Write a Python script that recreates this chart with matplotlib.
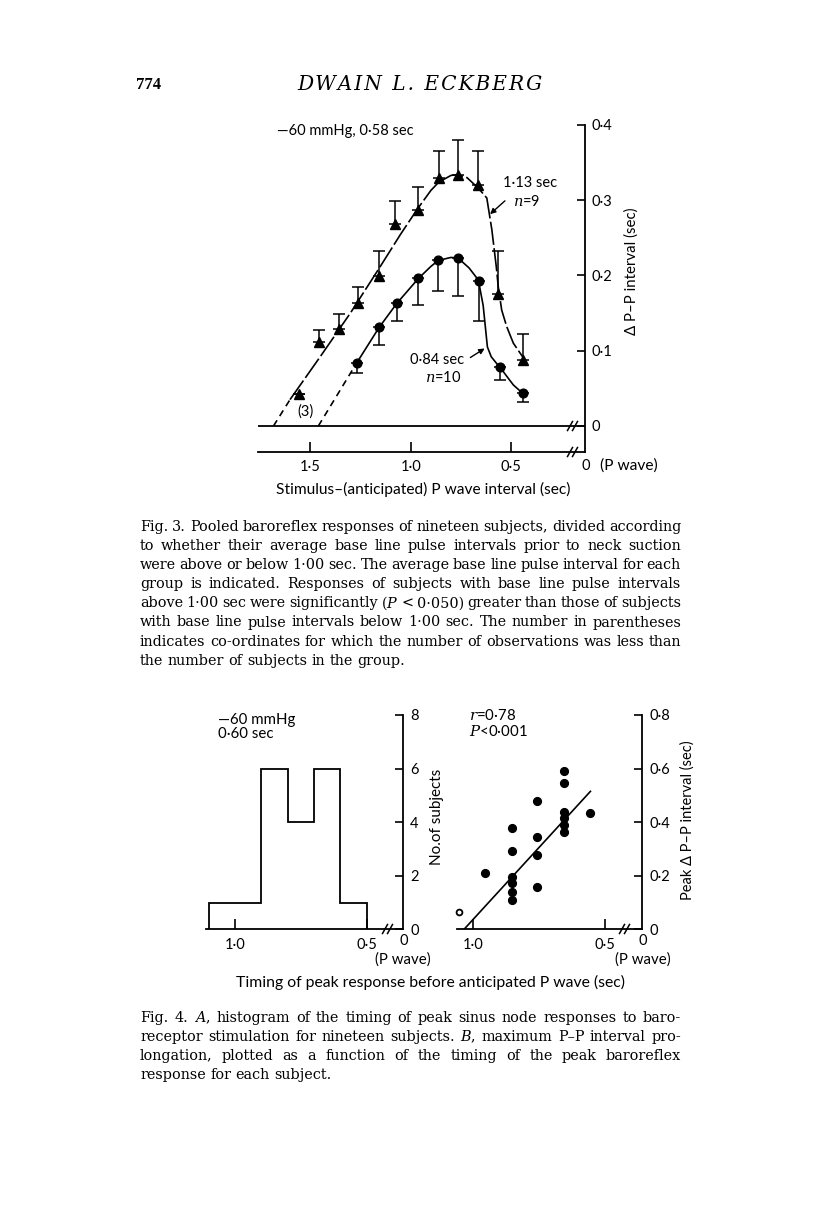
import matplotlib
matplotlib.use('Agg')
import matplotlib.pyplot as plt
from matplotlib.lines import Line2D

W, H = 816, 1219

plt.rcParams['font.family'] = ['Lato', 'DejaVu Sans']
plt.rcParams['mathtext.fontset'] = 'custom'
plt.rcParams['mathtext.it'] = 'DejaVu Serif:italic'
plt.rcParams['mathtext.rm'] = 'DejaVu Serif'

# ---- Fig. 3 data (stimulus-P wave interval, sec ; delta P-P interval, sec)
# base line pulse interval > 1.00 sec (triangles, n=9), error bars go up
tri_x = [1.553, 1.456, 1.356, 1.26, 1.156, 1.078, 0.965, 0.861, 0.767, 0.664, 0.565, 0.444]
tri_y = [0.042, 0.111, 0.129, 0.163, 0.199, 0.269, 0.287, 0.329, 0.333, 0.320, 0.176, 0.088]
tri_top = [0.042, 0.128, 0.149, 0.185, 0.232, 0.299, 0.318, 0.365, 0.380, 0.366, 0.233, 0.122]
# base line pulse interval < 1.00 sec (circles, n=10), error bars go down
circ_x = [1.268, 1.157, 1.069, 0.962, 0.863, 0.764, 0.662, 0.556, 0.444]
circ_y = [0.084, 0.131, 0.163, 0.196, 0.221, 0.223, 0.193, 0.078, 0.0435]
circ_low = [0.070, 0.108, 0.139, 0.161, 0.180, 0.173, 0.139, 0.061, 0.032]

# hand-drawn curves through the points
tri_ext_x = [1.682, 1.600]
tri_ext_y = [0.0, 0.035]
tri_fit_x = [1.600, 1.45, 1.30, 1.156, 1.05, 0.965, 0.90, 0.861, 0.80, 0.767, 0.72,
             0.664, 0.622, 0.597, 0.575, 0.565, 0.548, 0.523, 0.49, 0.444]
tri_fit_y = [0.035, 0.092, 0.150, 0.210, 0.255, 0.289, 0.313, 0.324, 0.333, 0.334, 0.330,
             0.316, 0.303, 0.261, 0.212, 0.185, 0.154, 0.132, 0.110, 0.092]
circ_ext_x = [1.459, 1.268]
circ_ext_y = [0.0, 0.084]
circ_fit_x = [1.268, 1.157, 1.069, 0.962, 0.90, 0.863, 0.80, 0.764, 0.71, 0.664, 0.64,
              0.619, 0.60, 0.573, 0.556, 0.52, 0.49, 0.444]
circ_fit_y = [0.084, 0.131, 0.163, 0.196, 0.212, 0.220, 0.224, 0.223, 0.210, 0.194, 0.160,
              0.105, 0.092, 0.083, 0.078, 0.065, 0.0545, 0.0435]

# ---- Fig. 4 data
hist_edges = [0.5, 0.6, 0.7, 0.8, 0.9, 1.0, 1.1]
hist_counts = [1, 6, 4, 6, 1, 1]

peak_time = [0.956,
             0.854, 0.854, 0.854, 0.854, 0.854, 0.854,
             0.757, 0.757, 0.757, 0.757,
             0.656, 0.656, 0.656, 0.656, 0.656, 0.656,
             0.557]
peak_dpp = [0.211,
            0.379, 0.292, 0.194, 0.172, 0.140, 0.109,
            0.479, 0.346, 0.277, 0.159,
            0.591, 0.545, 0.439, 0.414, 0.389, 0.364,
            0.436]
open_time = [1.053]
open_dpp = [0.066]
reg_x = [1.035, 0.555]
reg_y = [0.0, 0.515]

fig3_ylabels = ['0', '0·1', '0·2', '0·3', '0·4']
fig3_xticks = [1.5, 1.0, 0.5]
fig3_xlabels = ['1·5', '1·0', '0·5']

cap3 = [
    'Fig. 3. Pooled baroreflex responses of nineteen subjects, divided according',
    'to whether their average base line pulse intervals prior to neck suction',
    'were above or below 1·00 sec. The average base line pulse interval for each',
    'group is indicated. Responses of subjects with base line pulse intervals',
    'above 1·00 sec were significantly ($\\mathit{P}$ < 0·050) greater than those of subjects',
    'with base line pulse intervals below 1·00 sec. The number in parentheses',
    'indicates co-ordinates for which the number of observations was less than',
    'the number of subjects in the group.',
]
cap4 = [
    'Fig. 4. $\\mathit{A}$, histogram of the timing of peak sinus node responses to baro-',
    'receptor stimulation for nineteen subjects. $\\mathit{B}$, maximum P–P interval pro-',
    'longation, plotted as a function of the timing of the peak baroreflex',
    'response for each subject.',
]

fig = plt.figure(figsize=(W / 100, H / 100), dpi=100)


def P(x, y):
    return (x / W, 1 - y / H)


def px_axes(x0, y0, x1, y1):
    return fig.add_axes([x0 / W, 1 - y1 / H, (x1 - x0) / W, (y1 - y0) / H])


def ftext(x, y, s, **kw):
    kw.setdefault('va', 'center')
    kw.setdefault('fontsize', 10.8)
    return fig.text(*P(x, y), s, **kw)


def brk(x, y):
    # the "//" axis break marks
    for off in (-3, 2):
        xs = [x + off - 2.5, x + off + 2.5]
        ys = [y + 4.5, y - 4.5]
        fig.add_artist(Line2D([v / W for v in xs], [1 - v / H for v in ys],
                              transform=fig.transFigure, color='k', lw=1.1))


def style_axes(ax):
    for s in ['top', 'left']:
        ax.spines[s].set_visible(False)
    for s in ['right', 'bottom']:
        ax.spines[s].set_linewidth(1.3)
    ax.yaxis.tick_right()
    ax.tick_params(axis='y', direction='in', length=6, width=1.2, pad=5, labelsize=10.5)
    ax.tick_params(axis='x', direction='in', length=7, width=1.2, pad=6, labelsize=10.5)
    ax.patch.set_alpha(0)


# ---------------- header
ftext(136, 85, '774', family='Liberation Serif', fontweight='bold', fontsize=12)
ftext(420, 85, '\u200a'.join('DWAIN L. ECKBERG'), family='DejaVu Serif',
      fontstyle='italic', fontsize=14.5, ha='center')

# ---------------- Fig. 3
ax = px_axes(258, 125, 585, 452)
ax.set_xlim(1.759, 0.134)
ax.set_ylim(-0.0346, 0.4)
style_axes(ax)
ax.set_yticks([0, 0.1, 0.2, 0.3, 0.4])
ax.set_yticklabels(fig3_ylabels)
ax.set_xticks(fig3_xticks)
ax.set_xticklabels(fig3_xlabels)
ax.axhline(0, color='k', lw=1.3)

ax.plot(tri_ext_x, tri_ext_y, color='k', lw=1.2, ls=(0, (4, 3)))
ax.plot(circ_ext_x, circ_ext_y, color='k', lw=1.2, ls=(0, (4, 3)))
ax.plot(tri_fit_x, tri_fit_y, color='k', lw=1.2, ls=(0, (14, 2)))
ax.plot(circ_fit_x, circ_fit_y, color='k', lw=1.2)

tri_err = [[0] * len(tri_y), [t - y for t, y in zip(tri_top, tri_y)]]
ax.errorbar(tri_x, tri_y, yerr=tri_err, fmt='none', ecolor='k', elinewidth=1.1,
            capsize=4, capthick=1.1)
ax.plot(tri_x, tri_y, '^', color='k', ms=7.3, ls='none')
circ_err = [[y - b for y, b in zip(circ_y, circ_low)], [0] * len(circ_y)]
ax.errorbar(circ_x, circ_y, yerr=circ_err, fmt='none', ecolor='k', elinewidth=1.1,
            capsize=4, capthick=1.1)
ax.plot(circ_x, circ_y, 'o', color='k', ms=6.3, ls='none')

brk(573, 426)
brk(573, 452)

ftext(277, 131, '—60 mmHg, 0·58 sec', fontsize=10.5)
ftext(503, 183, '1·13 sec', fontsize=10.5)
ftext(513, 201, '$\\mathit{n}$=9', fontsize=10.5)
ftext(410, 360, '0·84 sec', fontsize=10.5)
ftext(425, 377, '$\\mathit{n}$=10', fontsize=10.5)
ftext(305, 412, '(3)', ha='center', fontsize=10.5)
ax.annotate('', xy=P(488, 216), xycoords='figure fraction', xytext=P(507, 199),
            textcoords='figure fraction',
            arrowprops=dict(arrowstyle='-|>', color='k', lw=1.0, mutation_scale=8))
ax.annotate('', xy=P(487, 347), xycoords='figure fraction', xytext=P(468, 359),
            textcoords='figure fraction',
            arrowprops=dict(arrowstyle='-|>', color='k', lw=1.0, mutation_scale=8))

ftext(586, 466, '0', ha='center', fontsize=10.5)
ftext(600, 466, '(P wave)', ha='left', fontsize=11.2)
ftext(632, 271, 'Δ P–P interval (sec)', rotation=90, ha='center')
ftext(423, 489, 'Stimulus–(anticipated) P wave interval (sec)', ha='center',
      fontsize=11.2)

# ---------------- Fig. 4A
axa = px_axes(206, 715, 403.3, 929.3)
axa.set_xlim(1.110, 0.361)
axa.set_ylim(0, 8)
style_axes(axa)
axa.set_yticks([0, 2, 4, 6, 8])
axa.set_xticks([1.0, 0.5])
axa.set_xticklabels(['1·0', '0·5'])
axa.stairs(hist_counts, hist_edges, color='k', lw=1.3, baseline=0)
brk(388, 929)
ftext(218, 720, '—60 mmHg')
ftext(218, 734, '0·60 sec')
ftext(437, 817, 'No.of subjects', rotation=90, ha='center', fontsize=11)
ftext(404, 941, '0', ha='center', fontsize=10.5)
ftext(403, 960, '(P wave)', ha='center')

# ---------------- Fig. 4B
axb = px_axes(456.7, 715, 642.3, 929.3)
axb.set_xlim(1.063, 0.358)
axb.set_ylim(0, 0.8)
style_axes(axb)
axb.set_yticks([0, 0.2, 0.4, 0.6, 0.8])
axb.set_yticklabels(['0', '0·2', '0·4', '0·6', '0·8'])
axb.set_xticks([1.0, 0.5])
axb.set_xticklabels(['1·0', '0·5'])
axb.plot(reg_x, reg_y, color='k', lw=1.2)
axb.plot(peak_time, peak_dpp, 'o', color='k', ms=5.6, ls='none', clip_on=False)
axb.plot(open_time, open_dpp, 'o', mfc='white', mec='k', mew=1.3, ms=4.2, ls='none',
         clip_on=False)
brk(625, 929)
ftext(469, 715, '$\\mathit{r}$=0·78')
ftext(469, 732, '$\\mathit{P}$<0·001')
ftext(688, 820, 'Peak Δ P–P interval (sec)', rotation=90, ha='center', fontsize=10.5)
ftext(643, 941, '0', ha='center', fontsize=10.5)
ftext(643, 960, '(P wave)', ha='center')

ftext(431, 982, 'Timing of peak response before anticipated P wave (sec)',
      ha='center', fontsize=11.3)


# ---------------- captions, justified between x0 and x1
def caption(lines, x0, x1, y0, dy, size):
    r = fig.canvas.get_renderer()
    for i, line in enumerate(lines):
        words = line.split(' ')
        y = y0 + i * dy
        objs = [fig.text(*P(0, y), w, family='DejaVu Serif', fontsize=size,
                         va='baseline', ha='left') for w in words]
        widths = [o.get_window_extent(r).width for o in objs]
        space = size * 0.30 * 100 / 72
        if i < len(lines) - 1 and len(words) > 1:
            space = (x1 - x0 - sum(widths)) / (len(words) - 1)
        x = x0
        for o, w in zip(objs, widths):
            o.set_x(x / W)
            x += w + space


caption(cap3, 140, 681, 531, 19.1, 10.4)
caption(cap4, 140, 681, 1022, 19.1, 10.4)

fig.savefig('out.png', dpi=100)
